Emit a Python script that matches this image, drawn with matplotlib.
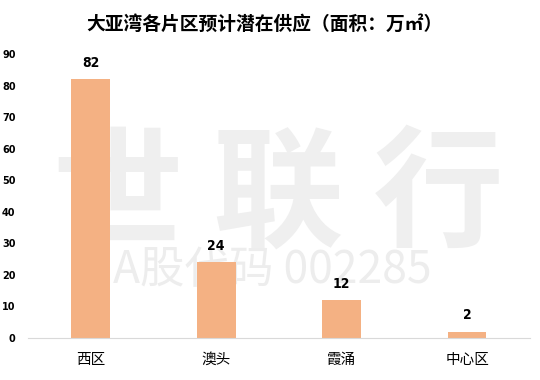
import matplotlib
matplotlib.use('Agg')
import matplotlib.pyplot as plt

plt.rcParams['font.family'] = ['Noto Sans CJK SC', 'DejaVu Sans']

# data
regions = ['西区', '澳头', '霞涌', '中心区']
supply = [82, 24, 12, 2]
yticks = [0, 10, 20, 30, 40, 50, 60, 70, 80, 90]
title = '大亚湾各片区预计潜在供应（面积：万㎡）'

fig = plt.figure(figsize=(5.4, 3.8), dpi=100)
ax = fig.add_axes([0.052, 0.1105, 0.929, 0.747])
ax.set_zorder(1)
ax.patch.set_alpha(0)

# watermark, kept behind the bars
fig.text(0.515, 0.48, '世 联 行', fontsize=94, color='#efefef', ha='center', va='center',
         fontweight='bold', zorder=0)
fig.text(0.505, 0.29, 'A股代码 002285', fontsize=32, color='#ededed', ha='center', va='center',
         fontweight='light', zorder=0)

x = range(len(regions))
ax.bar(x, supply, width=0.31, color='#f4b183', zorder=2)
for xi, v in zip(x, supply):
    ax.text(xi, v + 3, str(v), ha='center', va='bottom', fontsize=10, fontweight='bold',
            family=['DejaVu Sans'], fontstretch='condensed')

ax.set_xlim(-0.5, len(regions) - 0.5)
ax.set_ylim(0, 90)
ax.set_yticks(yticks)
ax.set_yticklabels([str(t) for t in yticks], fontsize=7, fontweight='bold', family=['DejaVu Sans'])
ax.set_xticks(list(x))
ax.set_xticklabels(regions, fontsize=10.5)
ax.tick_params(axis='both', length=0)
ax.tick_params(axis='y', pad=9)
ax.tick_params(axis='x', pad=11)
for s in ['top', 'right', 'left']:
    ax.spines[s].set_visible(False)
ax.spines['bottom'].set_color('#d9d9d9')

fig.text(0.49, 0.935, title, fontsize=13.5, fontweight='bold', ha='center', va='center')

fig.savefig('out.png', dpi=100)
